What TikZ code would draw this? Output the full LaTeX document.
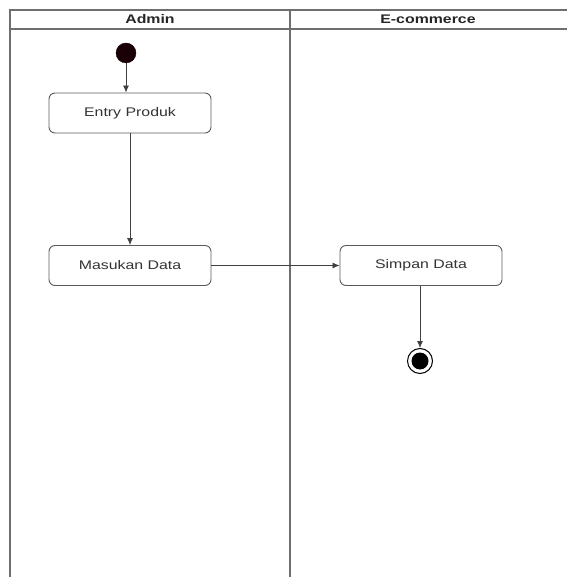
\documentclass[tikz,border=0pt]{standalone}
\usepackage{fontspec}
\setmainfont{Liberation Sans}
\usetikzlibrary{arrows.meta}
\definecolor{frame}{RGB}{110,110,110}
\definecolor{boxline}{RGB}{90,90,90}
\definecolor{startfill}{RGB}{25,0,6}
\newcommand{\wide}[1]{\scalebox{1.27}[1]{#1}}
\begin{document}
\begin{tikzpicture}[x=1pt,y=-1pt,
  lane/.style={draw=frame,line width=1.3pt},
  action/.style={draw=boxline,line width=0.9pt,rounded corners=6pt,
    minimum width=162pt,minimum height=40pt,inner sep=0pt,
    font=\fontsize{12.5}{14}\selectfont,text=black!80},
  head/.style={font=\fontsize{12.5}{14}\selectfont\bfseries,text=black!85},
  flow/.style={draw=black!75,line width=0.8pt,-{Latex[length=7pt,width=6pt]}}]
\useasboundingbox (0,0) rectangle (567,577);
% swimlane frame
\draw[lane] (10,577) -- (10,10) -- (567,10);
\draw[lane] (10,29) -- (567,29);
\draw[lane] (290,10) -- (290,577);
\node[head] (hadmin) at (150,19.5) {\wide{Admin}};
\node[head] (hshop) at (428,19.5) {\wide{E-commerce}};
% activities
\node[circle,fill=startfill,draw=startfill,minimum size=20pt,inner sep=0pt] (start) at (126,53) {};
\node[action] (entry) at (130,113) {\wide{Entry Produk}};
\node[action] (masuk) at (130,265.5) {\wide{Masukan Data}};
\node[action] (simpan) at (421,265.5) {\wide{Simpan Data}};
\node[circle,draw=black,line width=1pt,minimum size=25pt,inner sep=0pt] (end) at (420,361) {};
\node[circle,fill=black,minimum size=17pt,inner sep=0pt] (endin) at (end.center) {};
% control flow
\draw[flow] (start) -- (start |- entry.north);
\draw[flow] (entry.south -| masuk.north) -- (masuk.north);
\draw[flow] (masuk) -- (simpan);
\draw[flow] (simpan.south -| end.north) -- (end.north);
\end{tikzpicture}
\end{document}
